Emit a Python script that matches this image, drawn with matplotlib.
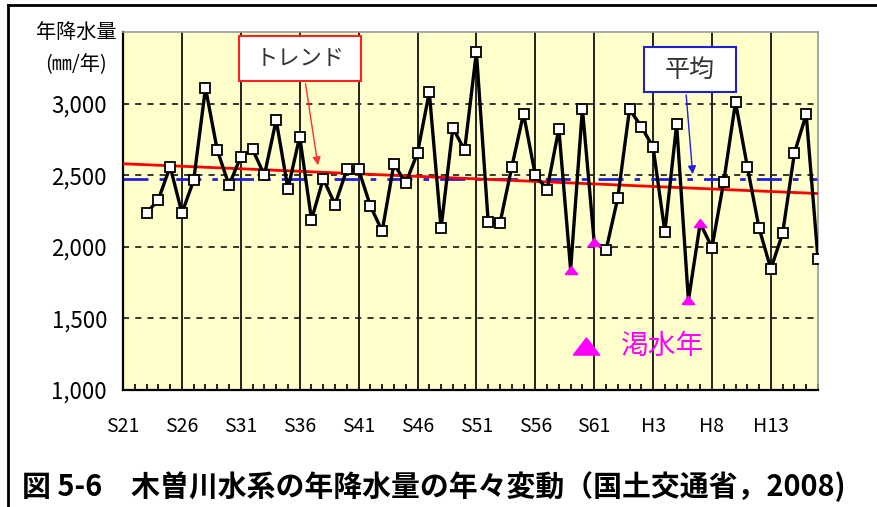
import numpy as np
import matplotlib
matplotlib.use("Agg")
import matplotlib.pyplot as plt
from matplotlib.lines import Line2D
from matplotlib.patches import Rectangle

plt.rcParams['font.family'] = ['Noto Sans CJK JP', 'DejaVu Sans']

# 年降水量 (mm/年)  S23(1948) - H17(2005)
years = list(range(1948, 2006))
rain = [2235, 2330, 2560, 2235, 2465, 3110, 2675, 2430, 2630, 2680,
        2500, 2885, 2405, 2770, 2190, 2475, 2295, 2540, 2540, 2285,
        2110, 2580, 2445, 2655, 3080, 2130, 2830, 2675, 3360, 2175,
        2165, 2555, 2930, 2500, 2400, 2825, 1840, 2965, 2035, 1975,
        2340, 2960, 2840, 2695, 2105, 2855, 1625, 2165, 1995, 2455,
        3010, 2560, 2130, 1845, 2095, 2655, 2925, 1915]
drought_years = [1984, 1986, 1994, 1995]

avg_value = 2470
trend_years = [1946, 2005]
trend_values = [2580, 2372]

tick_years = list(range(1946, 2005, 5))
tick_labels = ['S21', 'S26', 'S31', 'S36', 'S41', 'S46', 'S51', 'S56',
               'S61', 'H3', 'H8', 'H13']
y_ticks = [1000, 1500, 2000, 2500, 3000]

# flat triangle like the original Excel marker
tri = [(-1.0, -0.65), (1.0, -0.65), (0.0, 0.65), (-1.0, -0.65)]

fig = plt.figure(figsize=(8.77, 5.07), dpi=100)
ax = fig.add_axes([0.1403, 0.2308, 0.7924, 0.7061])
ax.set_facecolor('#ffffcc')

# grid
for v in [1500, 2000, 2500, 3000]:
    ax.axhline(v, color='black', lw=1.1, ls=(0, (4, 4)), zorder=1)
for t in tick_years[1:]:
    ax.axvline(t, color='#222222', lw=1.4, zorder=1)

# average & trend
ax.axhline(avg_value, color='#1f1fe0', lw=2, ls=(0, (9, 4, 2, 4)), zorder=2)
ax.plot(trend_years, trend_values, color='#ff0000', lw=2, zorder=3)

# data
ax.plot(years, rain, color='black', lw=2.4, zorder=4)
yr = np.array(years)
rn = np.array(rain)
dmask = np.isin(yr, drought_years)
ax.plot(yr[~dmask], rn[~dmask], ls='none', marker='s', ms=7.5,
        mfc='white', mec='black', mew=1.3, zorder=5)
ax.plot(yr[dmask], rn[dmask], ls='none', marker=tri, ms=9,
        color='#ff00ff', zorder=5)

ax.set_xlim(1946, 2005)
ax.set_ylim(1000, 3500)
ax.set_xticks(tick_years)
ax.set_xticklabels(tick_labels, fontsize=14)
ax.set_xticks(range(1946, 2006), minor=True)
ax.tick_params(axis='x', which='major', length=0, pad=19)
ax.tick_params(axis='x', which='minor', direction='in', length=4, width=1.2,
               top=False)
ax.set_yticks(y_ticks)
ax.set_yticklabels([f'{v:,}' for v in y_ticks], fontsize=16)
ax.tick_params(axis='y', length=0, pad=11.5)

for s in ['left', 'bottom']:
    ax.spines[s].set_color('black')
    ax.spines[s].set_linewidth(1.6)
for s in ['top', 'right']:
    ax.spines[s].set_color('#999999')
    ax.spines[s].set_linewidth(1.2)

# y axis title
fig.text(0.0867, 0.935, '年降水量', ha='center', va='center', fontsize=14.5)
fig.text(0.0867, 0.872, '(㎜/年)', ha='center', va='center', fontsize=14.5)

# callout: トレンド
ax.add_patch(Rectangle((0.167, 0.863), 0.1755, 0.1257, transform=ax.transAxes,
                       facecolor='white', edgecolor='#ff2020', lw=1.5,
                       zorder=6, clip_on=False))
ax.text(0.255, 0.926, 'トレンド', transform=ax.transAxes, ha='center',
        va='center', fontsize=16, color='#333333', zorder=7)
ax.annotate('', xy=(0.281, 0.62), xytext=(0.262, 0.863),
            xycoords='axes fraction', textcoords='axes fraction',
            arrowprops=dict(arrowstyle='-|>', color='#ff3030', lw=1,
                            mutation_scale=12), zorder=6)

# callout: 平均
ax.add_patch(Rectangle((0.750, 0.832), 0.1323, 0.1257, transform=ax.transAxes,
                       facecolor='white', edgecolor='#2020d0', lw=1.5,
                       zorder=6, clip_on=False))
ax.text(0.816, 0.895, '平均', transform=ax.transAxes, ha='center',
        va='center', fontsize=18, color='#333333', zorder=7)
ax.annotate('', xy=(0.820, 0.595), xytext=(0.810, 0.832),
            xycoords='axes fraction', textcoords='axes fraction',
            arrowprops=dict(arrowstyle='-|>', color='#2020e0', lw=1,
                            mutation_scale=12), zorder=6)

# legend: 渇水年
ax.plot([0.6665], [0.123], transform=ax.transAxes, marker=tri, ms=19,
        color='#ff00ff', ls='none', zorder=6)
ax.text(0.716, 0.123, '渇水年', transform=ax.transAxes, ha='left',
        va='center', fontsize=20, color='#ff00ff', zorder=6)

# caption
fig.text(0.025, 0.04, '図 5-6　木曽川水系の年降水量の年々変動（国土交通省，2008)',
         ha='left', va='center', fontsize=20.8, fontweight='bold')

# frame
fig.add_artist(Line2D([0.0091, 0.0091], [0, 0.990], color='black', lw=2))
fig.add_artist(Line2D([0.0091, 1.0], [0.990, 0.990], color='black', lw=2))

fig.savefig('out.png', dpi=100)
